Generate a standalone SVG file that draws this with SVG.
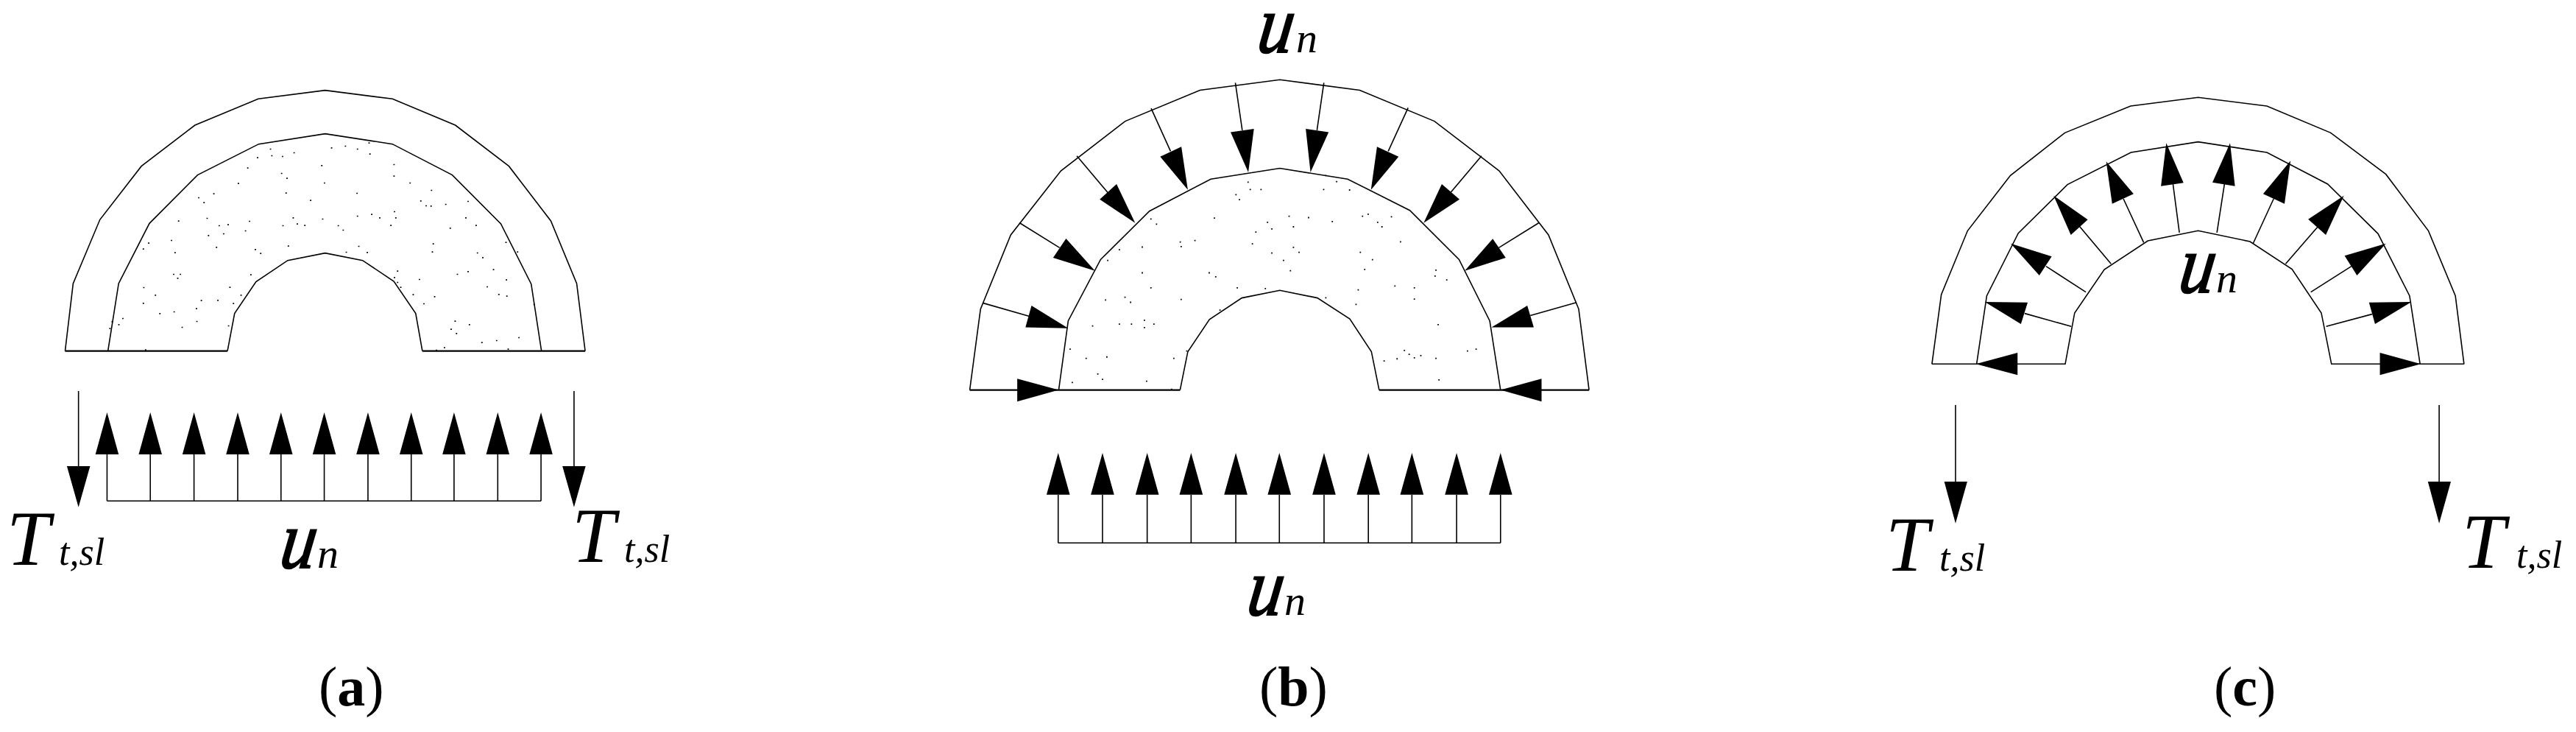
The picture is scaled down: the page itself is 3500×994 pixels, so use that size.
<svg xmlns="http://www.w3.org/2000/svg" width="3500" height="994" viewBox="0 0 3500 994">
<style>
text{font-family:"Liberation Serif","Times New Roman",serif;fill:#000}
.it{font-style:italic}
.T{font-size:106px}
.s{font-size:52px}
.u{font-size:80px;stroke:#000;stroke-width:1.5px}
.n{font-size:58px}
.cap{font-size:76px}
.b{font-weight:bold}
.ln{fill:none;stroke:#000;stroke-width:1.6;vector-effect:non-scaling-stroke}
.base{fill:none;stroke:#000;stroke-width:2.4;vector-effect:non-scaling-stroke}
.hd{fill:#000;stroke:none}
.dots{fill:#000;stroke:none}
</style>
<rect width="3500" height="994" fill="#fff"/>
<g id="panel-a">
<g id="a-shape" transform="translate(0,80) scale(.606,.3333)">
<path class="ln" d="M146 1190L164 915 224 655 317 437 437 270 579 163 729 128 880 163 1021 270 1141 437 1235 660 1293 915 1312 1190"/>
<path class="ln" d="M242 1190L266 915 335 670 443 473 580 347 729 305 880 347 1014 473 1123 672 1191 917 1214 1190"/>
<path class="ln" d="M510 1190L526 1037 574 908 645 821 729 791 813 821 883 906 932 1037 947 1190"/>
<path class="base" d="M146 1190H510M947 1190H1312"/>
<path class="dots" d="M605 365h3v5h-3zM773 353h3v5h-3zM742 360h3v5h-3zM800 365h3v5h-3zM826 340h3v5h-3zM658 380h3v5h-3zM632 395h3v5h-3zM608 392h3v5h-3zM576 400h3v5h-3zM828 385h3v5h-3zM720 432h3v5h-3zM882 428h3v5h-3zM554 442h3v5h-3zM630 464h3v5h-3zM642 484h3v5h-3zM882 475h3v5h-3zM533 505h3v5h-3zM726 503h3v5h-3zM918 503h3v5h-3zM966 533h3v5h-3zM478 547h3v5h-3zM640 544h3v5h-3zM799 545h3v5h-3zM444 563h3v5h-3zM456 583h3v5h-3zM695 574h3v5h-3zM942 576h3v5h-3zM1048 578h3v5h-3zM954 596h3v5h-3zM965 597h3v5h-3zM998 590h3v5h-3zM800 638h3v5h-3zM832 631h3v5h-3zM850 645h3v5h-3zM883 620h3v5h-3zM886 645h3v5h-3zM463 647h3v5h-3zM656 645h3v5h-3zM1043 645h3v5h-3zM399 658h3v5h-3zM558 659h3v5h-3zM722 650h3v5h-3zM510 673h3v5h-3zM490 677h3v5h-3zM633 677h3v5h-3zM665 670h3v5h-3zM682 676h3v5h-3zM757 677h3v5h-3zM875 676h3v5h-3zM1066 676h3v5h-3zM500 710h3v5h-3zM549 698h3v5h-3zM768 695h3v5h-3zM1008 687h3v5h-3zM466 717h3v5h-3zM383 737h3v5h-3zM332 748h3v5h-3zM645 760h3v5h-3zM803 761h3v5h-3zM970 751h3v5h-3zM1133 745h3v5h-3zM484 765h3v5h-3zM320 772h3v5h-3zM571 774h3v5h-3zM391 787h3v5h-3zM583 790h3v5h-3zM775 785h3v5h-3zM822 786h3v5h-3zM968 784h3v5h-3zM1069 788h3v5h-3zM1159 784h3v5h-3zM1081 807h3v5h-3zM1105 856h3v5h-3zM890 862h3v5h-3zM1048 864h3v5h-3zM1024 875h3v5h-3zM561 877h3v5h-3zM388 875h3v5h-3zM403 875h3v5h-3zM397 891h3v5h-3zM883 888h3v5h-3zM939 896h3v5h-3zM890 908h3v5h-3zM1134 898h3v5h-3zM321 929h3v5h-3zM514 928h3v5h-3zM897 928h3v5h-3zM1091 926h3v5h-3zM347 960h3v5h-3zM539 960h3v5h-3zM925 958h3v5h-3zM1117 957h3v5h-3zM973 966h3v5h-3zM1135 964h3v5h-3zM450 982h3v5h-3zM487 981h3v5h-3zM320 993h3v5h-3zM522 994h3v5h-3zM949 995h3v5h-3zM1196 998h3v5h-3zM439 1015h3v5h-3zM389 1028h3v5h-3zM357 1035h3v5h-3zM274 1055h3v5h-3zM440 1067h3v5h-3zM1019 1066h3v5h-3zM250 1068h3v5h-3zM1051 1080h3v5h-3zM265 1080h3v5h-3zM407 1091h3v5h-3zM511 1085h3v5h-3zM245 1096h3v5h-3zM1010 1099h3v5h-3zM1022 1116h3v5h-3zM1162 1133h3v5h-3zM1112 1145h3v5h-3zM1079 1153h3v5h-3zM977 1184h3v5h-3zM995 1174h3v5h-3zM1138 1180h3v5h-3zM325 1183h3v5h-3z"/>
</g>
<g id="a-arrows" transform="translate(0,500) scale(.606,.3333)">
<path class="ln" d="M240 541H1213M240 541V350M337 541V350M435 541V350M533 541V350M630 541V350M727 541V350M825 541V350M922 541V350M1018 541V350M1116 541V350M1213 541V350M176 93V400M1287 93V400"/>
<path class="hd" d="M214 351H266L240 180zM311 351H363L337 180zM409 351H461L435 180zM507 351H559L533 180zM604 351H656L630 180zM701 351H753L727 180zM799 351H851L825 180zM896 351H948L922 180zM992 351H1044L1018 180zM1090 351H1142L1116 180zM1187 351H1239L1213 180zM150 399H202L176 566zM1261 399H1313L1287 566z"/>
</g>
<text class="it T" x="9" y="767">T</text><text class="it s" x="80" y="767">t,sl</text>
<text class="it T" x="777" y="763">T</text><text class="it s" x="848" y="763">t,sl</text>
<text class="it u" transform="translate(378,771) skewX(-8) scale(1.2,1.4)">u</text><text class="it n" x="431" y="771">n</text>
<text class="cap" x="433" y="958">(<tspan class="b">a</tspan>)</text>
</g>
<g id="panel-b">
<g id="b-shape" transform="translate(1290,0) scale(.5868,.3571)">
<path class="ln" d="M47 1483L72 1175 142 893 258 650 407 461 580 343 765 303 950 343 1123 461 1273 650 1387 893 1457 1175 1481 1483"/>
<path class="ln" d="M253 1483L275 1220 350 987 463 803 605 681 765 640 922 681 1066 800 1180 987 1251 1220 1276 1483"/>
<path class="ln" d="M534 1483L552 1337 602 1215 677 1133 765 1104 852 1133 927 1213 977 1337 995 1483"/>
<path class="base" d="M47 1483H534M995 1483H1481"/>
<path class="dots" d="M690 690h3v5h-3zM870 665h3v5h-3zM895 688h3v5h-3zM925 720h3v5h-3zM695 718h3v5h-3zM720 718h3v5h-3zM865 718h3v5h-3zM662 738h3v5h-3zM670 757h3v5h-3zM612 827h3v5h-3zM785 820h3v5h-3zM830 825h3v5h-3zM955 820h3v5h-3zM968 812h3v5h-3zM1022 822h3v5h-3zM465 830h3v5h-3zM478 850h3v5h-3zM735 843h3v5h-3zM885 840h3v5h-3zM990 843h3v5h-3zM1000 860h3v5h-3zM795 860h3v5h-3zM745 868h3v5h-3zM708 880h3v5h-3zM533 918h3v5h-3zM567 912h3v5h-3zM700 925h3v5h-3zM1043 917h3v5h-3zM392 947h3v5h-3zM445 937h3v5h-3zM535 935h3v5h-3zM795 938h3v5h-3zM745 960h3v5h-3zM808 957h3v5h-3zM950 957h3v5h-3zM365 988h3v5h-3zM772 988h3v5h-3zM978 985h3v5h-3zM445 1035h3v5h-3zM600 1035h3v5h-3zM615 1050h3v5h-3zM788 1027h3v5h-3zM960 1022h3v5h-3zM1125 1025h3v5h-3zM1123 1047h3v5h-3zM1150 1062h3v5h-3zM465 1092h3v5h-3zM665 1092h3v5h-3zM730 1095h3v5h-3zM1075 1092h3v5h-3zM1030 1085h3v5h-3zM405 1128h3v5h-3zM535 1136h3v5h-3zM945 1100h3v5h-3zM870 1130h3v5h-3zM940 1155h3v5h-3zM360 1138h3v5h-3zM418 1147h3v5h-3zM625 1177h3v5h-3zM1075 1135h3v5h-3zM420 1230h3v5h-3zM392 1230h3v5h-3zM450 1215h3v5h-3zM472 1230h3v5h-3zM330 1237h3v5h-3zM450 1243h3v5h-3zM1130 1232h3v5h-3zM1218 1325h3v5h-3zM1198 1332h3v5h-3zM278 1325h3v5h-3zM548 1332h3v5h-3zM1052 1330h3v5h-3zM1063 1345h3v5h-3zM1090 1350h3v5h-3zM1125 1360h3v5h-3zM1035 1362h3v5h-3zM1075 1358h3v5h-3zM1005 1370h3v5h-3zM315 1360h3v5h-3zM363 1355h3v5h-3zM518 1360h3v5h-3zM342 1420h3v5h-3zM353 1440h3v5h-3zM283 1452h3v5h-3zM455 1447h3v5h-3zM1132 1442h3v5h-3zM513 1478h3v5h-3z"/>
<path class="ln" d="M77 1152L185 1203M162 847L255 942M295 593L367 733M467 412L512 575M662 315L678 495M867 315L851 495M1062 410L1016 575M1232 593L1160 733M1365 847L1272 942M1452 1150L1345 1200"/>
<path class="hd" d="M190 1162L176 1245 275 1248zM270 907L240 980 337 1030zM387 700L348 758 430 848zM537 558L488 596 552 722zM705 490L651 503 692 655zM825 490L878 503 836 655zM990 558L1040 596 976 722zM1140 700L1181 758 1098 848zM1258 908L1288 980 1193 1030zM1338 1162L1353 1245 1255 1245zM157 1440V1527L253 1483zM1371 1440V1527L1276 1483z"/>
</g>
<g id="b-arrows" transform="translate(1350,580) scale(.5102,.3333)">
<path class="ln" d="M172 472H1350M172 472V275M290 472V275M409 472V275M526 472V275M645 472V275M761 472V275M880 472V275M998 472V275M1114 472V275M1233 472V275M1350 472V275"/>
<path class="hd" d="M141 275H203L172 105zM259 275H321L290 105zM378 275H440L409 105zM495 275H557L526 105zM614 275H676L645 105zM730 275H792L761 105zM849 275H911L880 105zM967 275H1029L998 105zM1083 275H1145L1114 105zM1202 275H1264L1233 105zM1319 275H1381L1350 105z"/>
</g>
<text class="it u" transform="translate(1706,71) skewX(-8) scale(1.2,1.4)">u</text><text class="it n" x="1761" y="71">n</text>
<text class="it u" transform="translate(1692,835) skewX(-8) scale(1.2,1.4)">u</text><text class="it n" x="1745" y="835">n</text>
<text class="cap" x="1711" y="958">(<tspan class="b">b</tspan>)</text>
</g>
<g id="panel-c">
<g id="c-shape" transform="translate(2580,100) scale(.5102,.3333)">
<path class="ln" d="M88 1183L113 900 183 640 297 415 442 241 617 132 797 97 980 132 1150 241 1297 410 1410 640 1482 905 1505 1183"/>
<path class="ln" d="M207 1183L234 905 318 650 449 452 618 321 797 278 980 321 1142 450 1276 652 1360 905 1388 1183"/>
<path class="ln" d="M88 1183H443L468 975 547 798 663 681 797 640 935 684 1047 797 1125 975 1152 1183H1505"/>
<path class="ln" d="M747 648L730 450M847 648L867 450M652 688L598 510M943 693L998 510M565 775L480 620M1030 775L1115 625M498 890L392 785M1097 890L1205 785M459 1030L335 977M1138 1030L1260 980"/>
<path class="hd" d="M712 283L698 458 758 445zM882 283L835 443 895 458zM552 358L625 490 568 530zM1043 355L970 490 1027 530zM412 497L503 595 458 657zM1185 497L1090 593 1137 657zM298 692L407 745 374 822zM1297 692L1187 742 1220 822zM229 930L343 932 325 1020zM1365 930L1252 932 1268 1020zM205 1183L316 1137V1228zM1390 1183L1281 1137V1228z"/>
</g>
<g id="c-arrows" transform="translate(2540,500) scale(.6124,.3333)">
<path class="ln" d="M191 150V462M1264 150V462"/>
<path class="hd" d="M166 462H217L191 632zM1239 462H1290L1264 632z"/>
</g>
<text class="it u" transform="translate(2958,397) skewX(-8) scale(1.2,1.4)">u</text><text class="it n" x="3011" y="397">n</text>
<text class="it T" x="2562" y="775">T</text><text class="it s" x="2635" y="775">t,sl</text>
<text class="it T" x="3345" y="771">T</text><text class="it s" x="3419" y="771">t,sl</text>
<text class="cap" x="3008" y="958">(<tspan class="b">c</tspan>)</text>
</g>
</svg>
